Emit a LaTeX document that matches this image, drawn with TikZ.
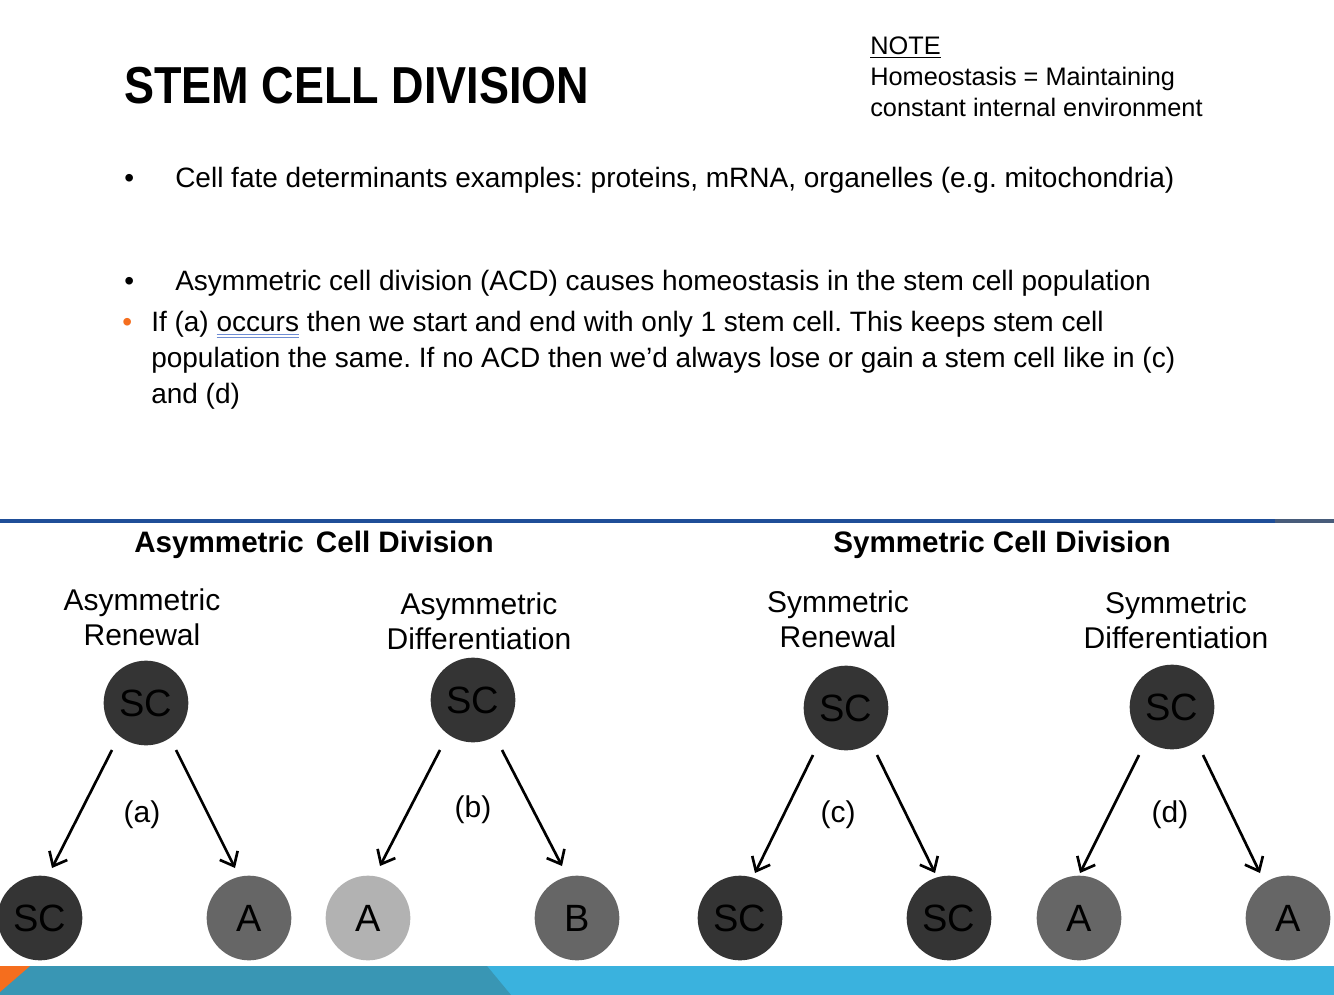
\documentclass[tikz,border=0pt]{standalone}
\usepackage{fontspec}
\setmainfont{Liberation Sans}
\newfontfamily\bodyfont{Liberation Sans}
\newfontfamily\titlefont{Liberation Sans}[FakeStretch=0.865]
\newfontfamily\diagfont{Liberation Sans}
\usetikzlibrary{arrows.meta}
\frenchspacing
\definecolor{lineblue}{RGB}{31,78,152}
\definecolor{linegrey}{RGB}{72,92,122}
\definecolor{barteal}{RGB}{57,150,180}
\definecolor{barblue}{RGB}{58,178,222}
\definecolor{barorange}{RGB}{245,110,30}
\definecolor{celldark}{RGB}{52,52,52}
\definecolor{cellmid}{RGB}{102,102,102}
\definecolor{celllight}{RGB}{178,178,178}
\definecolor{ulblue}{RGB}{110,140,210}
\newsavebox\gulbox
\newcommand\gramul[1]{\sbox\gulbox{#1}\rlap{\color{ulblue}\rule[-3.2pt]{\wd\gulbox}{0.7pt}}\rlap{\color{ulblue}\rule[-5pt]{\wd\gulbox}{0.7pt}}\usebox\gulbox}
\tikzset{
  body/.style={inner sep=0pt, anchor=base west, font=\bodyfont\fontsize{21pt}{27pt}\selectfont},
  notetxt/.style={inner sep=0pt, anchor=base west, font=\bodyfont\fontsize{19pt}{24pt}\selectfont},
  heading/.style={inner sep=0pt, font=\diagfont\bfseries\fontsize{22.2pt}{26pt}\selectfont},
  sublabel/.style={inner sep=0pt, align=center, font=\diagfont\fontsize{22.5pt}{26.5pt}\selectfont},
  caselabel/.style={inner sep=0pt, font=\diagfont\fontsize{22.5pt}{26pt}\selectfont},
  cell/.style={circle, minimum size=63.5pt, inner sep=0pt, text=black, font=\diagfont\fontsize{28.5pt}{30pt}\selectfont},
  cellD/.style={cell, fill=celldark},
  cellM/.style={cell, fill=cellmid},
  cellL/.style={cell, fill=celllight},
  arr/.style={line width=2pt, -{Straight Barb[length=9pt,width=15pt,line width=2pt]}},
}
\begin{document}
\begin{tikzpicture}[x=0.75pt,y=-0.75pt]
\useasboundingbox (0,0) rectangle (1334,995);
\fill[white] (0,0) rectangle (1334,995);

% title and note
\node[inner sep=0pt, anchor=base west, font=\titlefont\bfseries\fontsize{39pt}{44pt}\selectfont] (title) at (124,104) {STEM CELL DIVISION};
\node[notetxt] (note1) at (870,55) {\underline{NOTE}};
\node[notetxt] (note2) at (870,86) {Homeostasis = Maintaining};
\node[notetxt] (note3) at (870,117) {constant internal environment};

% bullets
\node[body] (b1dot) at (124,187) {•};
\node[body] (b1) at (175,187) {Cell fate determinants examples: proteins, mRNA, organelles (e.g. mitochondria)};
\node[body] (b2dot) at (124,290) {•};
\node[body] (b2) at (175,290) {Asymmetric cell division (ACD) causes homeostasis in the stem cell population};
\node[body, text=barorange] (b3dot) at (122,331) {•};
\node[body] (b3a) at (151,331) {If (a) \gramul{occurs} then we start and end with only 1 stem cell. This keeps stem cell};
\node[body] (b3b) at (151,367) {population the same. If no ACD then we’d always lose or gain a stem cell like in (c)};
\node[body] (b3c) at (151,403) {and (d)};

% separator line
\draw[lineblue, line width=2.4pt] (0,521) -- (1275,521);
\draw[linegrey, line width=2.4pt] (1275,521) -- (1334,521);

% diagram headings
\node[heading] (hA) at (314,545) {Asymmetric\hspace{3pt} Cell Division};
\node[heading] (hS) at (1002,545) {Symmetric Cell Division};
\node[sublabel] (lA) at (142,617) {Asymmetric\\Renewal};
\node[sublabel] (lB) at (479,621) {Asymmetric\\Differentiation};
\node[sublabel] (lC) at (838,619) {Symmetric\\Renewal};
\node[sublabel] (lD) at (1176,620) {Symmetric\\Differentiation};

% cells
\node[cellD] (a0) at (146,703) {SC};
\node[cellD] (a1) at (40,918) {SC};
\node[cellM] (a2) at (249,918) {A};
\node[cellD] (b0) at (473,700) {SC};
\node[cellL] (bb1) at (368,918) {A};
\node[cellM] (bb2) at (577,918) {B};
\node[cellD] (c0) at (846,708) {SC};
\node[cellD] (c1) at (740,918) {SC};
\node[cellD] (c2) at (949,918) {SC};
\node[cellD] (d0) at (1172,707) {SC};
\node[cellM] (d1) at (1079,918) {A};
\node[cellM] (d2) at (1288,918) {A};

% case labels
\node[caselabel] (ca) at (142,815) {(a)};
\node[caselabel] (cb) at (473,810) {(b)};
\node[caselabel] (cc) at (838,815) {(c)};
\node[caselabel] (cd) at (1170,815) {(d)};

% arrow end points
\coordinate (aLs) at (112,750); \coordinate (aLe) at (52,868);
\coordinate (aRs) at (176,750); \coordinate (aRe) at (235,868);
\coordinate (bLs) at (440,750); \coordinate (bLe) at (380,866);
\coordinate (bRs) at (502,750); \coordinate (bRe) at (562,866);
\coordinate (cLs) at (813,755); \coordinate (cLe) at (755,873);
\coordinate (cRs) at (877,755); \coordinate (cRe) at (935,873);
\coordinate (dLs) at (1139,755); \coordinate (dLe) at (1080,873);
\coordinate (dRs) at (1203,755); \coordinate (dRe) at (1260,873);
\draw[arr] (aLs) -- (aLe);
\draw[arr] (aRs) -- (aRe);
\draw[arr] (bLs) -- (bLe);
\draw[arr] (bRs) -- (bRe);
\draw[arr] (cLs) -- (cLe);
\draw[arr] (cRs) -- (cRe);
\draw[arr] (dLs) -- (dLe);
\draw[arr] (dRs) -- (dRe);

% bottom bar
\fill[barblue] (0,966) rectangle (1334,995);
\fill[barteal] (0,966) -- (487,966) -- (511,995) -- (0,995) -- cycle;
\fill[barorange] (0,966) -- (30,966) -- (0,992) -- cycle;
\end{tikzpicture}
\end{document}
